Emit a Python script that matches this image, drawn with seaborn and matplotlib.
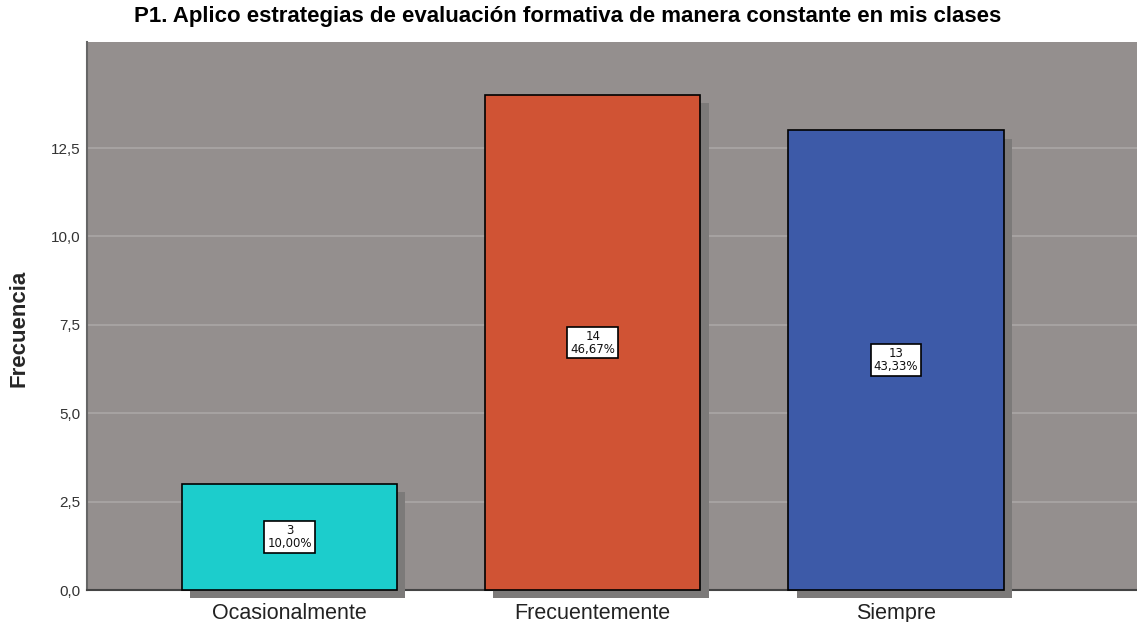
import matplotlib
matplotlib.use("Agg")
import matplotlib.pyplot as plt
import matplotlib.patheffects as pe
import seaborn as sns
import pandas as pd

# Chart data
categorias = ["Ocasionalmente", "Frecuentemente", "Siempre"]
frecuencias = [3, 14, 13]
porcentajes = ["10,00%", "46,67%", "43,33%"]
colores = ["#1ccdcc", "#d05334", "#3d5aa8"]

df = pd.DataFrame({"categoria": categorias, "frecuencia": frecuencias})

sns.set_style("white")
plt.rcParams["font.family"] = ["DejaVu Sans"]

fig = plt.figure(figsize=(11.37, 6.22), dpi=100)
ax = fig.add_axes([0.0765, 0.0514, 0.9235, 0.8811])
ax.set_facecolor("#948f8e")

sns.barplot(data=df, x="categoria", y="frecuencia", hue="categoria",
            palette=colores, saturation=1, width=0.71, edgecolor="black",
            linewidth=1.2, legend=False, ax=ax, zorder=3)

# drop shadow like SPSS output
for bar in ax.patches:
    bar.set_clip_on(False)
    bar.set_path_effects([pe.SimplePatchShadow(offset=(6, -6), shadow_rgbFace="#7c7a79", alpha=1.0),
                          pe.Normal()])

# value boxes
for i, (f, p) in enumerate(zip(frecuencias, porcentajes)):
    ax.text(i, f / 2, f"{f}\n{p}", ha="center", va="center", fontsize=8.5,
            linespacing=1.0, zorder=5, color="#111111",
            bbox=dict(boxstyle="square,pad=0.25", facecolor="white", edgecolor="black", linewidth=1.2))

ax.set_ylim(0, 15.5)
ax.set_xlim(-0.668, 2.795)
ax.set_yticks([0, 2.5, 5, 7.5, 10, 12.5])
ax.set_yticklabels(["0,0", "2,5", "5,0", "7,5", "10,0", "12,5"], fontsize=11,
                   color="#333333", family="Liberation Sans")
for lab in ax.get_xticklabels():
    lab.set_family("Liberation Sans")
ax.yaxis.grid(True, color="#aaa6a5", linewidth=1.2, zorder=0)
ax.set_axisbelow(True)
ax.tick_params(axis="x", labelsize=15.5, length=0, pad=9, labelcolor="#222222")
ax.tick_params(axis="y", length=0, pad=5)

for s in ["top", "right"]:
    ax.spines[s].set_visible(False)
ax.spines["left"].set_color("#666666")
ax.spines["bottom"].set_color("#444444")
ax.spines["left"].set_linewidth(1.5)
ax.spines["bottom"].set_linewidth(1.5)

ax.set_xlabel("")
ax.set_ylabel("Frecuencia", fontsize=16, fontweight="bold", family="Liberation Sans")
ax.yaxis.set_label_coords(-0.055, 0.478)
fig.suptitle("P1. Aplico estrategias de evaluación formativa de manera constante en mis clases",
             x=0.4996, y=0.99, fontsize=16, fontweight="bold", family="Liberation Sans", color="black")

fig.savefig("out.png", dpi=100)
